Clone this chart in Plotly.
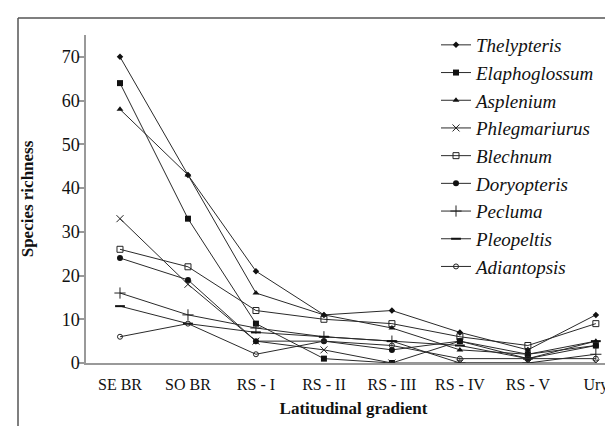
import plotly.graph_objects as go

categories = ["SE BR", "SO BR", "RS - I", "RS - II", "RS - III", "RS - IV", "RS - V", "Ury"]

thelypteris = [70, 43, 21, 11, 12, 7, 3, 11]
elaphoglossum = [64, 33, 9, 1, 0, 5, 2, 4]
asplenium = [58, 43, 16, 11, 8, 3, 2, 5]
phlegmariurus = [33, 18, 5, 3, 0, 0, 0, 0]
blechnum = [26, 22, 12, 10, 9, 6, 4, 9]
doryopteris = [24, 19, 5, 5, 3, 5, 1, 4]
pecluma = [16, 11, 8, 6, 5, 0, 0, 2]
pleopeltis = [13, 9, 7, 6, 5, 4, 1, 5]
adiantopsis = [6, 9, 2, 5, 4, 1, 1, 1]

y_ticks = [0, 10, 20, 30, 40, 50, 60, 70]

series = [
    ("Thelypteris", thelypteris, dict(symbol="diamond", size=5, color="#111")),
    ("Elaphoglossum", elaphoglossum, dict(symbol="square", size=6, color="#111")),
    ("Asplenium", asplenium, dict(symbol="triangle-up", size=6, color="#111")),
    ("Phlegmariurus", phlegmariurus, dict(symbol="x-thin-open", size=7, color="#222", line=dict(width=1, color="#222"))),
    ("Blechnum", blechnum, dict(symbol="square-open", size=6, color="#222", line=dict(width=1))),
    ("Doryopteris", doryopteris, dict(symbol="circle", size=6, color="#111")),
    ("Pecluma", pecluma, dict(symbol="cross-thin-open", size=8, color="#222", line=dict(width=1, color="#222"))),
    ("Pleopeltis", pleopeltis, dict(symbol="line-ew-open", size=7, color="#111", line=dict(width=2, color="#111"))),
    ("Adiantopsis", adiantopsis, dict(symbol="circle-open", size=5, color="#222", line=dict(width=1))),
]

SERIF = "'Times New Roman', 'Liberation Serif', 'DejaVu Serif', serif"

fig = go.Figure()
for i, (name, vals, mk) in enumerate(series):
    fig.add_trace(go.Scatter(
        x=categories, y=vals, name=name, mode="lines+markers",
        line=dict(color="#2a2a2a", width=1), marker=mk,
        legendgroup=name,
    ))

W, H = 613, 426
L, R, T, B = 78, 0, 27, 71
pw, ph = W - L - R, H - T - B

def px_to_paper_x(px):
    return (px - L) / pw

def px_to_paper_y(py):
    return (H - B - py) / ph

fig.update_layout(
    width=W, height=H,
    margin=dict(l=L, r=R, t=T, b=B, pad=0),
    paper_bgcolor="white", plot_bgcolor="white",
    font=dict(family=SERIF, size=16, color="#111"),
    showlegend=True,
    legend=dict(
        x=px_to_paper_x(428), y=px_to_paper_y(18), xanchor="left", yanchor="top",
        font=dict(size=19, family=SERIF, style="italic"),
        bgcolor="rgba(0,0,0,0)", tracegroupgap=0, itemwidth=30,
        maxheight=400,
    ),
    xaxis=dict(
        type="category", range=[-0.5, 7.37],
        showline=True, linecolor="#999", linewidth=1.5,
        ticks="", showgrid=False, zeroline=False,
        tickfont=dict(size=16, family=SERIF), ticklabelstandoff=6,
        title=dict(text="<b>Latitudinal gradient</b>", font=dict(size=17, family=SERIF), standoff=9),
    ),
    yaxis=dict(
        range=[0, 75], tickvals=y_ticks,
        showline=True, linecolor="#999", linewidth=1.5,
        ticks="outside", ticklen=6, tickcolor="#999", tickwidth=1.5,
        showgrid=False, zeroline=False,
        tickfont=dict(size=18, family=SERIF), ticklabelstandoff=-5,
        title=dict(text="<b>Species richness</b>", font=dict(size=17, family=SERIF), standoff=24),
    ),
    shapes=[
        dict(type="line", xref="paper", yref="paper",
             x0=px_to_paper_x(10), x1=px_to_paper_x(613), y0=px_to_paper_y(10), y1=px_to_paper_y(10),
             line=dict(color="#555", width=1.5)),
        dict(type="line", xref="paper", yref="paper",
             x0=px_to_paper_x(10), x1=px_to_paper_x(10), y0=px_to_paper_y(10), y1=px_to_paper_y(426),
             line=dict(color="#555", width=1.5)),
    ],
)

fig.write_html("out.html")
